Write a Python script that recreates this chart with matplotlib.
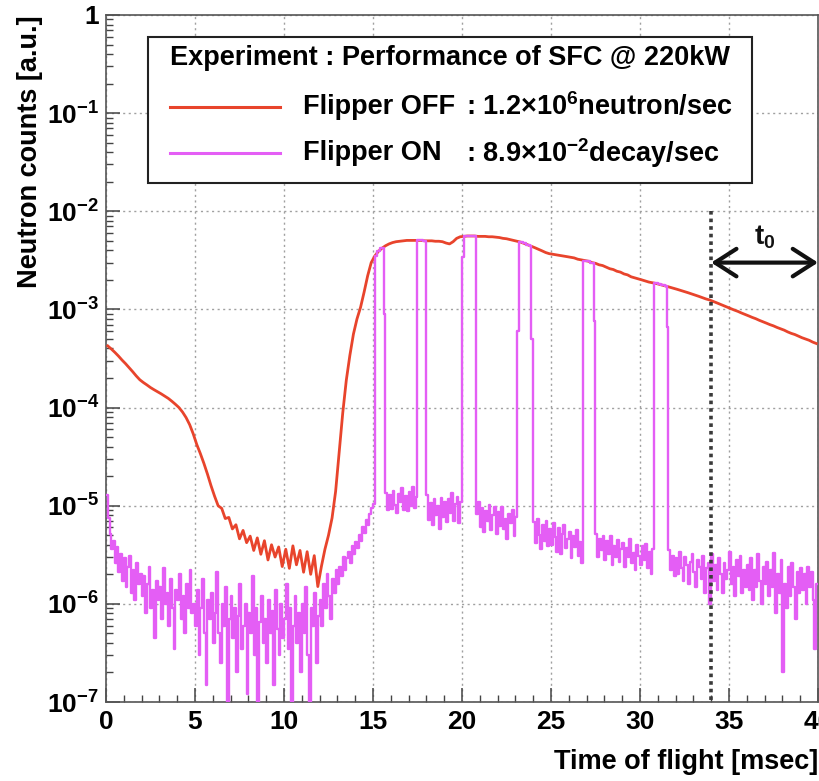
import numpy as np
import matplotlib
matplotlib.use("Agg")
import matplotlib.pyplot as plt
from matplotlib.ticker import MultipleLocator, LogLocator, FuncFormatter, NullFormatter
from matplotlib.patches import Rectangle
from matplotlib.lines import Line2D

plt.rcParams['font.family'] = ['Liberation Sans', 'DejaVu Sans']
plt.rcParams['font.weight'] = 'bold'
plt.rcParams['mathtext.fontset'] = 'custom'
plt.rcParams['mathtext.rm'] = 'Liberation Sans:bold'
plt.rcParams['mathtext.it'] = 'Liberation Sans:bold'
plt.rcParams['mathtext.bf'] = 'Liberation Sans:bold'
plt.rcParams['mathtext.sf'] = 'Liberation Sans:bold'
plt.rcParams['mathtext.default'] = 'rm'

# ---------------------------------------------------------------- data
# Flipper OFF: neutron counts per 0.2 ms bin, in units of 1e-6
RED_BIN_MS = 0.2
flipper_off_e6 = [
    425, 395, 365, 335, 305, 280, 255, 232, 210, 192,
    180, 170, 160, 152, 145, 138, 131, 124, 116, 108,
    100, 90, 79, 67, 54, 42, 34, 27, 21, 16,
    12.5, 10.0, 9.4, 7.4, 7.6, 5.8, 6.4, 4.6, 5.6, 4.2,
    4.9, 3.5, 4.7, 3.2, 4.4, 2.8, 4.0, 3.0, 3.8, 2.4,
    3.6, 2.3, 3.9, 2.5, 3.5, 2.1, 3.4, 2.0, 3.1, 1.5,
    2.4, 3.6, 5.0, 7.5, 14, 35, 88, 190, 340, 560,
    800, 1050, 1500, 2200, 3000, 3500, 3900, 4200, 4450, 4650,
    4800, 4900, 4950, 5000, 5050, 5050, 5050, 5050, 5050, 5000,
    5000, 5000, 4950, 4950, 4900, 4750, 4650, 4900, 5300, 5500,
    5550, 5600, 5600, 5600, 5550, 5550, 5550, 5500, 5500, 5450,
    5400, 5300, 5250, 5150, 5050, 4950, 4850, 4700, 4550, 4400,
    4250, 4100, 3950, 3800, 3700, 3650, 3600, 3550, 3500, 3450,
    3400, 3350, 3250, 3200, 3150, 3100, 3000, 2950, 2850, 2800,
    2700, 2600, 2550, 2450, 2400, 2300, 2250, 2150, 2100, 2050,
    2000, 1950, 1900, 1870, 1840, 1800, 1760, 1720, 1680, 1640,
    1600, 1560, 1520, 1480, 1440, 1400, 1360, 1320, 1280, 1250,
    1210, 1170, 1130, 1090, 1055, 1020, 985, 955, 920, 890,
    860, 830, 805, 775, 750, 725, 700, 680, 655, 635,
    615, 590, 570, 555, 535, 515, 500, 485, 465, 450,
]

# Flipper ON: background counts per 0.1 ms bin, in units of 1e-6
ON_BIN_MS = 0.1
flipper_on_e6 = [
    13, 7.5, 5.2, 3.6, 4.4, 2.6, 3.8, 2.1, 3.2, 1.7,
    2.9, 1.5, 2.4, 3.1, 1.3, 2.2, 1.1, 2.6, 1.6, 2.0,
    1.2, 1.9, 0.8, 1.6, 2.4, 0.9, 1.4, 0.45, 1.7, 1.1,
    1.5, 0.7, 2.3, 1.0, 1.3, 0.6, 1.8, 0.9, 0.35, 1.4,
    1.1, 2.0, 0.7, 1.2, 0.5, 1.6, 0.9, 2.2, 0.8, 1.0,
    0.6, 1.4, 0.3, 0.9, 1.8, 0.5, 0.15, 1.1, 0.7, 1.3,
    0.4, 0.8, 2.1, 0.5, 0.25, 1.0, 0.6, 1.5, 0.08, 0.7,
    1.2, 0.45, 0.9, 0.2, 0.75, 1.6, 0.35, 0.6, 1.0, 0.12,
    0.8, 0.5, 1.9, 0.3, 0.9, 0.06, 0.65, 1.2, 0.4, 0.7,
    0.25, 1.1, 0.5, 0.85, 0.15, 1.4, 0.55, 0.3, 1.0, 0.45,
    0.7, 1.6, 0.35, 0.9, 0.05, 0.6, 1.2, 0.4, 0.8, 0.2,
    1.0, 0.5, 1.5, 0.3, 0.08, 0.9, 0.6, 1.3, 0.25, 0.75,
    1.1, 0.6, 1.6, 0.9, 2.0, 1.2, 0.7, 1.8, 1.3, 2.2,
    1.6, 2.4, 1.9, 3.0, 2.2, 2.9, 3.4, 2.6, 3.9, 3.2,
    4.3, 3.7, 5.0, 4.4, 6.0, 5.3, 7.1, 6.4, 8.2, 9.5,
    10.5, 10.0, 10.2, 9.6, 10.4, 10.1, 900, 13.5, 9.0, 12.8,
    9.2, 14.0, 10.1, 8.4, 13.2, 11.0, 15.0, 9.0, 12.6, 8.8,
    13.8, 10.0, 15.5, 9.4, 12.2, 11.5, 12.0, 11.0, 12.3, 11.6,
    12.8, 7.2, 10.6, 6.4, 11.8, 8.0, 9.9, 5.8, 12.0, 7.6,
    10.8, 6.8, 11.6, 8.4, 13.5, 7.0, 10.4, 12.4, 6.6, 11.0,
    3400, 8.6, 8.1, 8.8, 7.9, 8.3, 8.5, 8.0, 8.2, 11.0,
    6.0, 9.4, 5.4, 8.8, 7.0, 10.2, 5.6, 8.0, 9.6, 5.2,
    8.6, 6.2, 9.8, 5.8, 7.4, 4.6, 8.2, 6.6, 9.0, 4.9,
    7.6, 600, 6.2, 5.9, 6.4, 5.7, 6.1, 5.5, 6.0, 500,
    6.8, 4.2, 7.4, 5.0, 3.6, 6.4, 4.4, 7.0, 3.9, 5.8,
    4.0, 6.6, 4.8, 3.4, 5.9, 3.2, 5.2, 6.3, 3.7, 4.6,
    5.4, 2.9, 4.9, 3.8, 5.6, 3.1, 4.3, 2.6, 4.2, 4.0,
    4.1, 4.3, 3.9, 4.0, 770, 5.2, 3.0, 4.6, 3.5, 4.9,
    2.8, 4.4, 3.2, 4.9, 2.5, 3.9, 3.0, 4.5, 2.7, 3.6,
    4.2, 2.4, 3.7, 3.0, 4.6, 2.6, 3.3, 2.2, 4.0, 3.1,
    2.5, 3.9, 2.8, 4.1, 2.3, 3.4, 2.0, 3.6, 3.0, 3.1,
    2.9, 3.0, 3.2, 2.8, 3.0, 660, 3.5, 2.2, 3.1, 1.9,
    2.9, 2.0, 3.4, 2.3, 1.7, 3.0, 2.5, 1.6, 2.7, 3.2,
    2.1, 1.5, 2.8, 2.4, 1.8, 3.1, 1.3, 2.3, 2.6, 1.0,
    3.2, 1.7, 2.5, 1.4, 2.9, 2.0, 1.3, 2.6, 1.8, 2.2,
    3.4, 1.6, 2.4, 1.2, 2.8, 1.9, 3.1, 1.3, 2.2, 1.5,
    2.5, 1.4, 2.9, 1.1, 2.2, 1.5, 3.2, 1.7, 1.0, 2.4,
    1.6, 2.7, 1.2, 2.2, 1.5, 3.3, 0.8, 2.0, 1.3, 2.8,
    0.2, 1.6, 0.9, 2.4, 1.2, 2.6, 1.5, 0.7, 2.1, 1.3,
    2.3, 1.4, 2.0, 1.0, 2.4, 1.5, 2.1, 1.1, 0.35, 1.6,
]

# time windows (ms) in which the flipper was off during the ON run
flipper_off_windows_ms = [(15.1, 15.6), (17.5, 18.0), (20.1, 20.8),
                          (23.2, 23.9), (26.8, 27.4), (30.8, 31.5)]

t0_start_ms = 34.0
legend_title = "Experiment : Performance of SFC @ 220kW"
label_off = ("Flipper OFF", r": 1.2×10$^{6}$neutron/sec")
label_on = ("Flipper ON", r": 8.9×10$^{-2}$decay/sec")

RED = '#e8442c'
MAGENTA = '#e45ef5'

# ---------------------------------------------------------------- series
off_counts = np.array(flipper_off_e6) * 1e-6
t_off = (np.arange(len(off_counts)) + 0.5) * RED_BIN_MS

on_counts = np.array(flipper_on_e6) * 1e-6
t_on = (np.arange(len(on_counts)) + 0.5) * ON_BIN_MS
for a, b in flipper_off_windows_ms:
    m = (t_on > a) & (t_on < b)
    on_counts[m] = off_counts[(t_on[m] / RED_BIN_MS).astype(int)]

# ---------------------------------------------------------------- figure
W, H = 820, 781
fig = plt.figure(figsize=(W / 100, H / 100), dpi=100)
L, R, T, B = 106, 818, 15, 702
ax = fig.add_axes([L / W, 1 - B / H, (R - L) / W, (B - T) / H])

ax.set_yscale('log')
ax.set_xlim(0, 40)
ax.set_ylim(1e-7, 1)

ax.grid(True, which='major', color='#a0a0a0', linestyle=(0, (1.5, 2.5)), lw=1.0)

ax.plot(t_off, off_counts, color=RED, lw=2.0, zorder=3)
ax.plot(t_on, on_counts, color=MAGENTA, lw=1.7, drawstyle='steps-mid', zorder=4)

# start of t0 window
ax.plot([t0_start_ms, t0_start_ms], [1e-2, 1e-7], color='#3a3a3a', lw=2.6,
        linestyle=(0, (1, 1.1)), zorder=5)
ax.annotate('', xy=(t0_start_ms, 3.0e-3), xytext=(40, 3.0e-3),
            arrowprops=dict(arrowstyle='<->,head_length=0.7,head_width=0.45',
                            lw=3, color='#111111', mutation_scale=22,
                            shrinkA=0, shrinkB=0),
            annotation_clip=False, zorder=6)
ax.text(37.0, 5.5e-3, r'$t_{0}$', fontsize=20, ha='center', va='center',
        color='#111111', zorder=6)

# axes styling
for s in ax.spines.values():
    s.set_color('#555555')
    s.set_linewidth(1.2)
ax.xaxis.set_major_locator(MultipleLocator(5))
ax.xaxis.set_minor_locator(MultipleLocator(1))
ax.yaxis.set_major_locator(LogLocator(base=10, numticks=20))
ax.yaxis.set_minor_locator(LogLocator(base=10, subs=np.arange(2, 10), numticks=20))
ax.yaxis.set_minor_formatter(NullFormatter())


def ylab(v, pos):
    e = int(round(np.log10(v)))
    return '1' if e == 0 else r'$10^{%d}$' % e


ax.yaxis.set_major_formatter(FuncFormatter(ylab))
ax.tick_params(which='both', direction='in', top=False, right=False,
               color='#444444', labelsize=19)
ax.tick_params(which='major', length=10, width=1.1)
ax.tick_params(which='minor', length=5, width=1.0)
ax.tick_params(axis='x', pad=6)
ax.tick_params(axis='y', pad=5)

# legend box
ax.add_patch(Rectangle((0.059, 0.755), 0.848, 0.213, transform=ax.transAxes,
                       facecolor='white', edgecolor='#222222', lw=1.5, zorder=10))
ax.text(0.483, 0.937, legend_title, transform=ax.transAxes, fontsize=19.5,
        ha='center', va='center', zorder=11)
for y, col, (name, val) in [(0.866, RED, label_off), (0.799, MAGENTA, label_on)]:
    ax.add_line(Line2D([0.090, 0.244], [y, y], transform=ax.transAxes,
                       color=col, lw=2.2, zorder=11))
    ax.text(0.277, y, name, transform=ax.transAxes, fontsize=19.5,
            ha='left', va='center', zorder=11)
    ax.text(0.506, y, val, transform=ax.transAxes, fontsize=19.5,
            ha='left', va='center', zorder=11)

fig.text(30 / W, 1 - T / H, 'Neutron counts [a.u.]', rotation=90,
         ha='center', va='top', fontsize=19.5)
fig.text(R / W, 1 - 762 / H, 'Time of flight [msec]', ha='right',
         va='center', fontsize=19.5)

fig.savefig('out.png', dpi=100)
